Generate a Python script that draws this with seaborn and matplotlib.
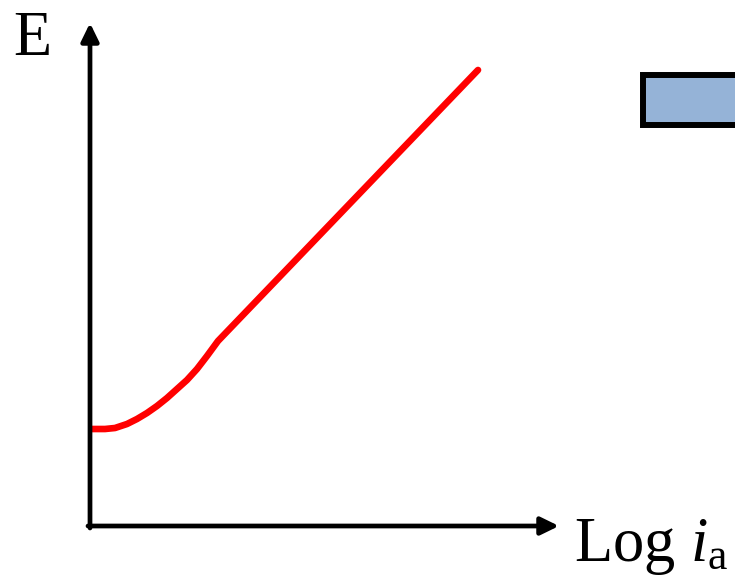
import matplotlib
matplotlib.use('Agg')
import matplotlib.pyplot as plt
import seaborn as sns
import pandas as pd
from matplotlib.patches import Rectangle

# curve (x = log i_a, y = E, arbitrary units from origin)
log_i = [2, 15, 25, 37, 47, 57, 67, 77, 87, 97, 107, 117, 128, 388]
E_vals = [97, 97, 98, 102, 107, 113, 120, 128, 137, 146, 157, 170, 185, 456]

x_label = 'Log $i_{\\mathrm{a}}$'
y_label = 'E'

sns.set_theme(style='white')
plt.rcParams['font.family'] = ['Liberation Serif', 'DejaVu Serif']
plt.rcParams['mathtext.fontset'] = 'custom'
plt.rcParams['mathtext.rm'] = 'Liberation Serif'
plt.rcParams['mathtext.it'] = 'Liberation Serif:italic'

fig = plt.figure(figsize=(7.35, 5.79), dpi=100)
ax = fig.add_axes([0, 0, 1, 1])
ax.set_xlim(-90, 645)
ax.set_ylim(-53, 526)
ax.axis('off')

df = pd.DataFrame({'log_i': log_i, 'E': E_vals})
sns.lineplot(data=df, x='log_i', y='E', ax=ax, color='#ff0000', lw=4.8,
             solid_capstyle='round', solid_joinstyle='round')

# axes drawn as arrows
arrow = dict(arrowstyle='-|>,head_length=0.45,head_width=0.22', lw=3.4,
             color='black', mutation_scale=24, shrinkA=0, shrinkB=0)
ax.annotate('', xy=(469, 0), xytext=(-2, 0), arrowprops=arrow)
ax.annotate('', xy=(0, 503), xytext=(0, -2), arrowprops=arrow)

ax.text(-77, 486, y_label, fontsize=45, va='center', ha='left', color='black')
ax.text(484, -21, x_label, fontsize=45, va='center', ha='left', color='black')

ax.add_patch(Rectangle((553, 401), 200, 50, facecolor='#95b3d7',
                       edgecolor='black', lw=4.3, clip_on=True))

plt.savefig('out.png', dpi=100)
plt.close()
